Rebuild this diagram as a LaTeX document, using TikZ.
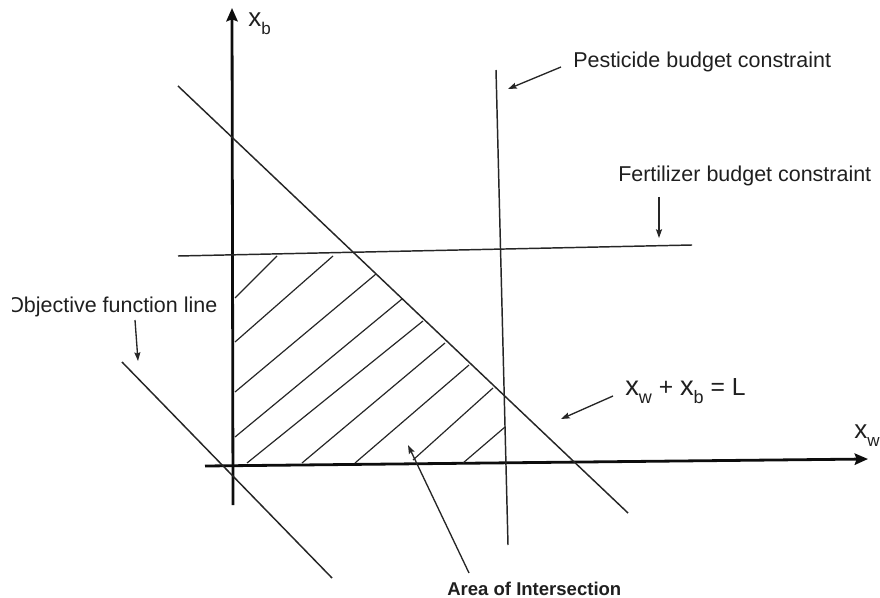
\documentclass[tikz,border=0pt]{standalone}
\usepackage{fontspec}
\setmainfont{Liberation Sans}
\usetikzlibrary{arrows.meta}
\newcommand\sizeX{\fontsize{19.5pt}{20pt}\selectfont}
\newcommand\sizeXL{\fontsize{20.5pt}{21pt}\selectfont}
\newcommand\sizeS{\fontsize{12.75pt}{13pt}\selectfont}
\newcommand\sizeSL{\fontsize{13.5pt}{14pt}\selectfont}
\newcommand\sizeT{\fontsize{16.1pt}{18pt}\selectfont}
\newcommand\sizeE{\fontsize{18.5pt}{20pt}\selectfont}
\newcommand\sizeB{\fontsize{13.9pt}{16pt}\selectfont\bfseries}
\newcommand\varx[1]{{\sizeX x}\raisebox{-6pt}{\sizeS #1}}
\newcommand\varxl[1]{{\sizeXL x}\raisebox{-6pt}{\sizeSL #1}}
\begin{document}
\begin{tikzpicture}[x=0.75pt,y=-0.75pt,
  axis/.style={line width=2.1pt,draw=black!95,-{Stealth[length=10pt,width=8.5pt,inset=1.5pt]}},
  cline/.style={line width=1.1pt,draw=black!85},
  hatch/.style={line width=0.9pt,draw=black!85},
  callout/.style={line width=1pt,draw=black!85,-{Stealth[length=6.5pt,width=4.5pt,inset=1pt]}},
  lbl/.style={anchor=base west,inner sep=0pt,text=black!88,font=\sizeT}]
\useasboundingbox (0,0) rectangle (880,598);

% axes
\coordinate (yb) at (233,505); \coordinate (yt) at (232,8);
\coordinate (xl) at (205,466); \coordinate (xr) at (868,459);
\draw[axis] (yb) -- (yt);
\draw[axis] (xl) -- (xr);
\node[lbl] (xblbl) at (248,27) {\varx{b}};
\node[lbl] (xwlbl) at (854,438) {\varx{w}};

% constraint lines
\coordinate (L1) at (178,86);  \coordinate (L2) at (628,513);
\coordinate (F1) at (178,256); \coordinate (F2) at (692,245);
\coordinate (P1) at (496,70);  \coordinate (P2) at (508,545);
\coordinate (O1) at (122,362); \coordinate (O2) at (332,578);
\draw[cline] (L1) -- (L2);
\draw[cline] (F1) -- (F2);
\draw[cline] (P1) -- (P2);
\draw[cline] (O1) -- (O2);

% hatching
\draw[hatch] (235,298) -- (277,256);
\draw[hatch] (235,342) -- (333,256);
\draw[hatch] (235,392) -- (376,274);
\draw[hatch] (235,437) -- (402,299);
\draw[hatch] (247,463) -- (423,321);
\draw[hatch] (302,463) -- (445,343);
\draw[hatch] (355,463) -- (469,365);
\draw[hatch] (413,460) -- (493,388);
\draw[hatch] (463,463) -- (505,427);

% labels
\node[lbl] (pest) at (573,68) {Pesticide budget constraint};
\node[lbl] (fert) at (618,182) {Fertilizer budget constraint};
\begin{scope}
  \clip (12,280) rectangle (240,330);
  \node[lbl] (obj) at (7,312) {Objective function line};
\end{scope}
\node[lbl,font=\sizeE] (eq) at (625,395) {\varxl{w} + \varxl{b} = L};
\node[lbl,font=\sizeB] (area) at (447,595) {Area of Intersection};

% callout arrows
\coordinate (pa1) at (561,67);  \coordinate (pa2) at (508,89);
\coordinate (fa1) at (659,197); \coordinate (fa2) at (659,238);
\coordinate (oa1) at (135,320); \coordinate (oa2) at (138,361);
\coordinate (ea1) at (613,396); \coordinate (ea2) at (561,419);
\coordinate (aa1) at (469,573); \coordinate (aa2) at (408,445);
\draw[callout] (pa1) -- (pa2);
\draw[callout] (fa1) -- (fa2);
\draw[callout] (oa1) -- (oa2);
\draw[callout] (ea1) -- (ea2);
\draw[callout] (aa1) -- (aa2);
\end{tikzpicture}
\end{document}
